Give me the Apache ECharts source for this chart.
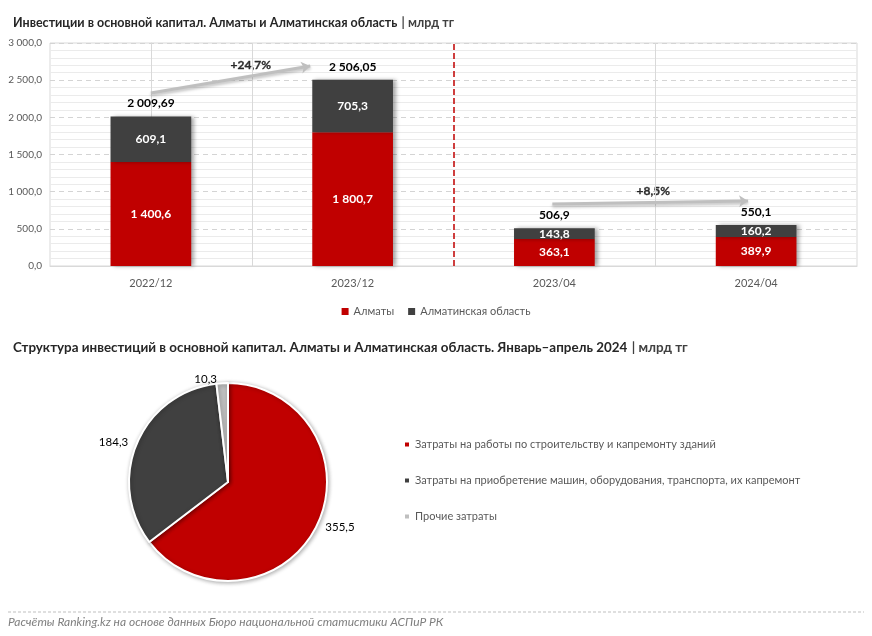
<!DOCTYPE html>
<html>
<head>
<meta charset="utf-8">
<script src="https://cdn.jsdelivr.net/npm/echarts@6/dist/echarts.min.js"></script>
<style>html,body{margin:0;padding:0;background:#fff}#c{width:872px;height:636px}</style>
</head>
<body>
<div id="c"></div>
<script>
// ---- data ----
const categories = ['2022/12', '2023/12', '2023/04', '2024/04'];
const almaty = [1400.6, 1800.7, 363.1, 389.9];
const region = [609.1, 705.3, 143.8, 160.2];
const totals = [2009.69, 2506.05, 506.9, 550.1];
const totalDecimals = [2, 2, 1, 1];
const seriesNames = ['Алматы', 'Алматинская область'];
// growth annotations: [startIdx, startVal, endIdx, endVal]
const arrows = [[0, 2327, 0.79, 2690], [1.99, 834, 2.96, 874]];
const arrowLabels = ['+24,7%', '+8,5%'];
const arrowLabelPos = [[0.495, 2700], [2.49, 1009]];
const pieNames = ['Затраты на работы по строительству и капремонту зданий', 'Затраты на приобретение машин, оборудования, транспорта, их капремонт', 'Прочие затраты'];
const pieValues = [355.5, 184.3, 10.3];

const FONT = 'Lato, "Open Sans", sans-serif';
function fmt(v, d) {
  const s = v.toFixed(d).split('.');
  const int = s[0].replace(/\B(?=(\d{3})+(?!\d))/g, ' ');
  return s.length > 1 ? int + ',' + s[1] : int;
}

const chart = echarts.init(document.getElementById('c'));
const shadow = {shadowColor: 'rgba(0,0,0,0.35)', shadowBlur: 4, shadowOffsetX: 3, shadowOffsetY: 0};
chart.setOption({
  backgroundColor: '#fff',
  textStyle: {fontFamily: FONT},
  title: [
    {text: '{b|Инвестиции в основной капитал. Алматы и Алматинская область} {n|| млрд тг}', left: 8, top: 9,
     textStyle: {rich: {b: {fontFamily: FONT, fontWeight: 'bold', fontSize: 12.5, color: '#262626'}, n: {fontFamily: FONT, fontSize: 12.5, color: '#404040'}}}},
    {text: '{b|Структура инвестиций в основной капитал. Алматы и Алматинская область. Январь–апрель 2024} {n|| млрд тг}', left: 8, top: 334,
     textStyle: {rich: {b: {fontFamily: FONT, fontWeight: 'bold', fontSize: 13.4, color: '#262626'}, n: {fontFamily: FONT, fontSize: 13.4, color: '#404040'}}}}
  ],
  legend: [
    {data: seriesNames, top: 301, left: 'center', itemWidth: 7, itemHeight: 7, itemGap: 14, icon: 'rect',
     textStyle: {fontSize: 11, color: '#595959', fontFamily: FONT}},
    {data: pieNames, orient: 'vertical', left: 398, top: 434, itemWidth: 6, itemHeight: 6, itemGap: 25, icon: 'rect',
     textStyle: {fontSize: 11, color: '#595959', fontFamily: FONT}}
  ],
  grid: {left: 50, right: 15, top: 43, height: 223, containLabel: false, show: true, borderColor: '#d9d9d9', borderWidth: 1},
  xAxis: [
    {type: 'category', data: categories, axisTick: {show: false},
     axisLine: {lineStyle: {color: '#d9d9d9'}},
     axisLabel: {color: '#595959', fontSize: 11, margin: 12, fontFamily: FONT}},
    {type: 'value', min: -0.5, max: 3.5, show: false}
  ],
  yAxis: {type: 'value', min: 0, max: 3000, interval: 500,
    axisLine: {show: true, lineStyle: {color: '#d9d9d9'}}, axisTick: {show: false},
    axisLabel: {color: '#595959', fontSize: 10, margin: 8, fontFamily: FONT, formatter: v => fmt(v, 1)},
    splitLine: {lineStyle: {color: '#d4d4d4', type: [5, 4]}},
    minorTick: {show: false, splitNumber: 5},
    minorSplitLine: {show: true, lineStyle: {color: '#ebebeb'}}
  },
  series: [
    {name: 'dividers', type: 'scatter', xAxisIndex: 1, data: [[0, 0]], symbolSize: 0, silent: true, z: 1,
     markLine: {silent: true, symbol: ['none', 'none'], animation: false, label: {show: false},
       data: [
         {xAxis: 0.5, lineStyle: {color: '#d9d9d9', width: 1, type: 'solid'}},
         {xAxis: 2.5, lineStyle: {color: '#d9d9d9', width: 1, type: 'solid'}},
         {xAxis: 1.5, lineStyle: {color: '#c00000', width: 1.5, type: [6, 3]}}
       ]}},
    {name: seriesNames[0], type: 'bar', stack: 's', data: almaty, barWidth: '40%',
     itemStyle: Object.assign({color: '#c00000'}, shadow),
     label: {show: true, position: 'inside', color: '#fff', fontWeight: 'bold', fontSize: 12, fontFamily: FONT, formatter: p => fmt(p.value, 1)}},
    {name: seriesNames[1], type: 'bar', stack: 's', data: region, barWidth: '40%',
     itemStyle: Object.assign({color: '#404040'}, shadow),
     label: {show: true, position: 'inside', color: '#fff', fontWeight: 'bold', fontSize: 12, fontFamily: FONT, formatter: p => fmt(p.value, 1)}},
    {name: 'total', type: 'bar', stack: 's', data: totals.map(() => 0), barWidth: '40%', silent: true,
     itemStyle: {color: 'transparent'},
     label: {show: true, position: 'top', distance: 7, color: '#000', fontWeight: 'bold', fontSize: 12, fontFamily: FONT,
       formatter: p => fmt(totals[p.dataIndex], totalDecimals[p.dataIndex])}},
    {name: 'arrows', type: 'scatter', xAxisIndex: 1, data: [[0, 0]], symbolSize: 0, silent: true,
     markLine: {silent: true, symbol: ['none', 'arrow'], symbolSize: [9, 9], animation: false,
       label: {show: false},
       lineStyle: {color: '#bfbfbf', width: 3, type: 'solid', shadowColor: 'rgba(0,0,0,0.25)', shadowBlur: 3, shadowOffsetY: 2},
       data: arrows.map(a => [{coord: [a[0], a[1]]}, {coord: [a[2], a[3]]}])}},
    {name: 'arrowLabels', type: 'scatter', xAxisIndex: 1, silent: true, symbolSize: 1,
     itemStyle: {color: 'rgba(0,0,0,0)'},
     data: arrowLabelPos.map((p, i) => ({value: p, name: arrowLabels[i]})),
     label: {show: true, position: 'inside', color: '#000', fontWeight: 700, fontSize: 12, fontFamily: FONT,
       textBorderColor: '#000', textBorderWidth: 0.3, formatter: p => p.name}},
    {name: 'pie', type: 'pie', center: [228, 482], radius: 99, startAngle: 90, clockwise: true,
     data: pieNames.map((n, i) => ({name: n, value: pieValues[i]})),
     color: ['#c00000', '#404040', '#bfbfbf'],
     itemStyle: {borderColor: '#fff', borderWidth: 2, shadowColor: 'rgba(0,0,0,0.3)', shadowBlur: 4, shadowOffsetX: 1, shadowOffsetY: 1},
     label: {show: true, position: 'outside', color: '#000', fontSize: 11.5, fontFamily: FONT, formatter: p => fmt(p.value, 1)},
     labelLine: {show: false, length: 4, length2: 0},
     emphasis: {disabled: true}, animation: false}
  ],
  animation: false,
  graphic: [
    {type: 'line', shape: {x1: 8, y1: 612, x2: 864, y2: 612}, style: {stroke: '#bfbfbf', lineWidth: 1, lineDash: [3, 2]}},
    {type: 'text', left: 8, top: 616, style: {text: 'Расчёты Ranking.kz на основе данных Бюро национальной статистики АСПиР РК', fill: '#7f7f7f', fontSize: 12, fontStyle: 'italic', fontFamily: FONT}}
  ]
});
</script>
</body>
</html>
